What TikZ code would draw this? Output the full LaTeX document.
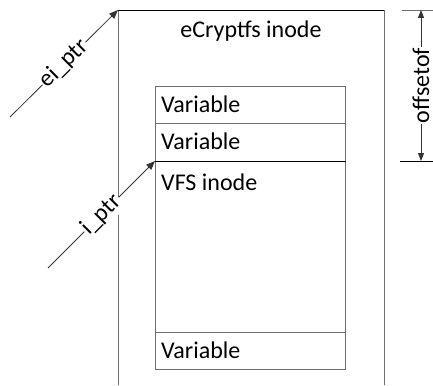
\documentclass[tikz,border=0pt]{standalone}
\usepackage{fontspec}
\setmainfont{Carlito}
\usetikzlibrary{arrows.meta}
\definecolor{edgegray}{HTML}{6E6E6E}
\tikzset{
  frameline/.style={draw=edgegray, line width=0.9pt},
  darkline/.style={draw=black, line width=0.9pt},
  cell/.style={frameline, minimum width=190pt, inner sep=0pt, anchor=north west},
  lbl/.style={font=\fontsize{24}{27}\selectfont, inner sep=0pt},
  ptrarrow/.style={draw=black!80, line width=0.8pt, -{Triangle[length=9pt,width=7pt]}},
  ptrlabel/.style={lbl, fill=white, sloped, inner xsep=1pt, inner ysep=2pt},
}
\begin{document}
\begin{tikzpicture}[x=1pt, y=-1pt]
  \useasboundingbox (0,0) rectangle (433,385);

  % outer eCryptfs inode structure (open at the bottom)
  \coordinate (outerTL) at (118,10);
  \coordinate (outerTR) at (384,10);
  \coordinate (outerBL) at (118,385);
  \coordinate (outerBR) at (384,385);
  \draw[frameline] (outerTL) -- (outerBL);
  \draw[frameline] (outerTR) -- (outerBR);
  \draw[darkline] (outerTL) -- (outerTR);
  \node[lbl, anchor=base] (ecname) at (251,38) {eCryptfs inode};

  % embedded fields
  \node[cell, minimum height=37pt] (var1) at (155,86) {};
  \node[cell, minimum height=38pt] (var2) at (155,123) {};
  \node[cell, minimum height=171pt] (vfs) at (155,161) {};
  \node[cell, minimum height=37pt] (var3) at (155,332) {};
  \draw[darkline] (vfs.north west) -- (vfs.north east);

  \node[lbl, anchor=base west] (var1t) at (161,112) {Variable};
  \node[lbl, anchor=base west] (var2t) at (161,149.5) {Variable};
  \node[lbl, anchor=base west] (vfst) at (161,190) {VFS inode};
  \node[lbl, anchor=base west] (var3t) at (161,358) {Variable};

  % pointers
  \coordinate (eistart) at (10,117);
  \coordinate (istart) at (48,268);
  \draw[ptrarrow] (eistart) -- node[ptrlabel] {ei\_ptr} (outerTL);
  \draw[ptrarrow] (istart) -- node[ptrlabel] {i\_ptr} (vfs.north west);

  % offsetof dimension
  \coordinate (offtop) at (421,10);
  \coordinate (offbot) at (421,161);
  \draw[frameline] (402,10) -- (433,10);
  \draw[darkline] (400,161) -- (433,161);
  \draw[draw=black!80, line width=0.8pt, {Triangle[length=8pt,width=6pt]}-{Triangle[length=8pt,width=6pt]}]
    (offbot) -- node[ptrlabel] {offsetof} (offtop);
\end{tikzpicture}
\end{document}
